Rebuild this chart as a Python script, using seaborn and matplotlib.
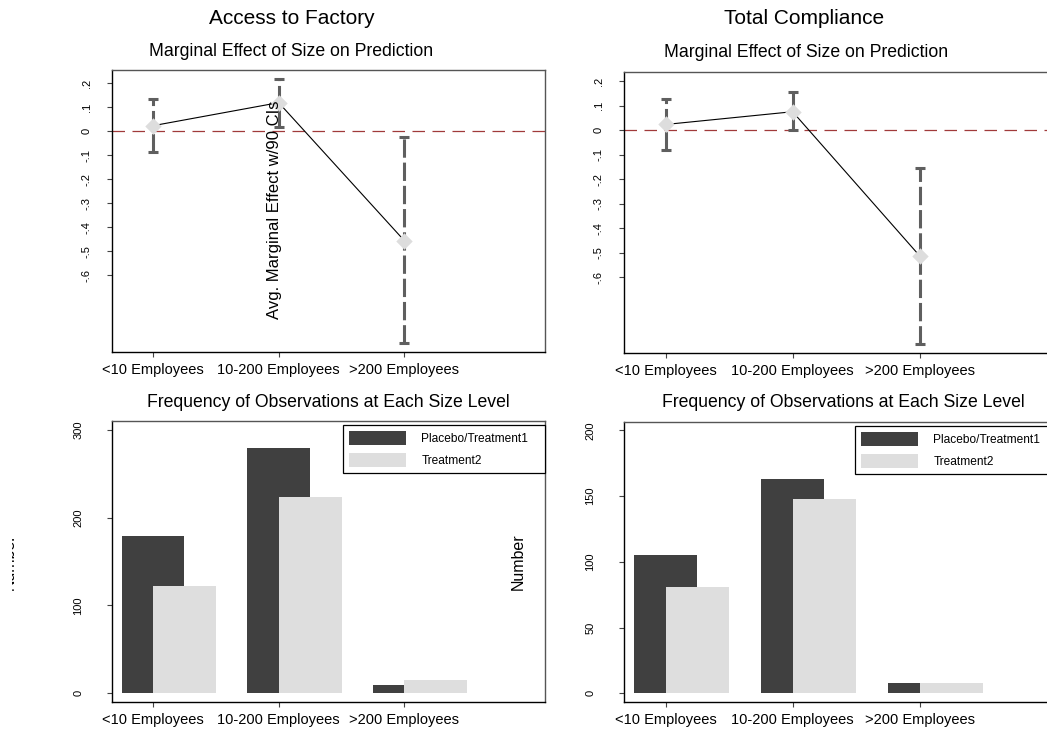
import matplotlib
matplotlib.use("Agg")

import matplotlib.pyplot as plt
import numpy as np
import seaborn as sns
from matplotlib.patches import Patch
from matplotlib.transforms import Bbox

# categories shared by every panel
categories = ["<10 Employees", "10-200 Employees", ">200 Employees"]

# marginal effects with 90% CIs
access_me = [0.023, 0.119, -0.456]
access_lo = [-0.088, 0.017, -0.883]
access_hi = [0.136, 0.217, -0.025]

comp_me = [0.024, 0.076, -0.512]
comp_lo = [-0.080, 0.001, -0.870]
comp_hi = [0.129, 0.155, -0.153]

# observation counts per size level
access_t1 = [179, 279, 9]
access_t2 = [122, 224, 15]
comp_t1 = [105, 163, 8]
comp_t2 = [81, 148, 8]

series_names = ["Placebo/Treatment1", "Treatment2"]
me_ticks = [-0.6, -0.5, -0.4, -0.3, -0.2, -0.1, 0, 0.1, 0.2]
me_ticklabels = ["-.6", "-.5", "-.4", "-.3", "-.2", "-.1", "0", ".1", ".2"]

DARK = "#404040"
LIGHT = "#dedede"
CI_COLOR = "#5f5f5f"

W, H = 1047, 733

sns.set_theme(style="white")
plt.rcParams["font.family"] = ["Liberation Sans", "DejaVu Sans"]
plt.rcParams.update({"text.color": "black", "axes.labelcolor": "black",
                     "xtick.color": "black", "ytick.color": "black"})


def px_axes(fig, left, top, width, height):
    return fig.add_axes([left / W, 1 - (top + height) / H, width / W, height / H])


def style_axes(ax, ypad):
    for side in ("left", "bottom"):
        ax.spines[side].set_color("black")
        ax.spines[side].set_linewidth(1.0)
    for side in ("top", "right"):
        ax.spines[side].set_color("#555555")
        ax.spines[side].set_linewidth(1.0)
    ax.tick_params(axis="both", which="both", direction="out", length=3.6,
                   width=0.8, color="#444444", left=True, bottom=True)
    ax.tick_params(axis="x", labelsize=10.5, pad=4)
    ax.tick_params(axis="y", labelsize=8, pad=ypad, labelrotation=90)
    for lab in ax.get_yticklabels():
        lab.set_va("center")
    ax.set_xlim(-0.327, 3.12)
    ax.set_xticks(range(len(categories)))
    ax.set_xticklabels(categories)
    ax.set_xlabel("")
    ax.set_ylabel("")


def effect_panel(ax, me, lo, hi, ylim):
    pos = np.arange(len(categories))
    me = np.array(me)
    yerr = [me - np.array(lo), np.array(hi) - me]
    ax.axhline(0, color="#a03a3a", lw=0.9, dashes=(10, 6), zorder=1)
    eb = ax.errorbar(pos, me, yerr=yerr, fmt="none", ecolor=CI_COLOR,
                     elinewidth=2.2, capsize=3.4, capthick=2.2, zorder=2)
    eb[2][0].set_linestyle((0, (6, 1.6)))
    sns.lineplot(x=pos, y=me, color="black", lw=0.8, ax=ax, zorder=3)
    sns.scatterplot(x=pos, y=me, marker="D", s=70, color="#dddddd",
                    linewidth=0, ax=ax, zorder=4)
    ax.set_ylim(*ylim)
    ax.set_yticks(me_ticks)
    ax.set_yticklabels(me_ticklabels)
    style_axes(ax, 11)


def count_panel(ax, t1, t2, ylim, yticks, ax_w):
    pos = np.arange(len(categories))
    sns.barplot(x=pos, y=t1, native_scale=True, width=0.5, color=DARK,
                saturation=1, errorbar=None, linewidth=0, ax=ax)
    sns.barplot(x=pos + 0.25, y=t2, native_scale=True, width=0.5, color=LIGHT,
                saturation=1, errorbar=None, linewidth=0, ax=ax)
    ax.set_ylim(*ylim)
    ax.set_yticks(yticks)
    ax.set_yticklabels([str(t) for t in yticks])
    style_axes(ax, 17)
    handles = [Patch(facecolor=DARK, edgecolor="none"),
               Patch(facecolor=LIGHT, edgecolor="none")]
    x0 = 231 / ax_w
    leg = ax.legend(handles, series_names, loc="upper left",
                    bbox_to_anchor=(x0, 0, 202 / ax_w, 1 - 4 / 281),
                    mode="expand", borderaxespad=0,
                    fontsize=8.6, handlelength=4.8, handleheight=1.4,
                    handletextpad=1.25, labelspacing=0.7, borderpad=0.5,
                    fancybox=False, framealpha=1, edgecolor="black")
    leg.get_frame().set_linewidth(0.9)


fig = plt.figure(figsize=(W / 100, H / 100), dpi=100)

ax_tl = px_axes(fig, 112, 70, 433, 282)
ax_tr = px_axes(fig, 624, 72, 438, 281)
ax_bl = px_axes(fig, 112, 421, 433, 281)
ax_br = px_axes(fig, 624, 422, 438, 280)

effect_panel(ax_tl, access_me, access_lo, access_hi, (-0.92, 0.255))
effect_panel(ax_tr, comp_me, comp_lo, comp_hi, (-0.908, 0.238))
count_panel(ax_bl, access_t1, access_t2, (-10, 310), [0, 100, 200, 300], 433)
count_panel(ax_br, comp_t1, comp_t2, (-6.6, 206.3), [0, 50, 100, 150, 200], 438)


def ftext(x, y, s, **kw):
    return fig.text(x / W, 1 - y / H, s, ha="center", va="center", **kw)


ftext(291.5, 18, "Access to Factory", fontsize=15)
ftext(804, 18, "Total Compliance", fontsize=15)
ftext(291.5, 51, "Marginal Effect of Size on Prediction", fontsize=12.7)
ftext(806.5, 52.5, "Marginal Effect of Size on Prediction", fontsize=12.7)
ftext(328, 402.5, "Frequency of Observations at Each Size Level", fontsize=12.7)
ftext(843, 402.5, "Frequency of Observations at Each Size Level", fontsize=12.7)
ftext(275, 210, "Avg. Marginal Effect w/90 CIs", fontsize=12, rotation=90)
ftext(518, 561.5, "Number", fontsize=11.5, rotation=90)

# the left "Number" label is mostly hidden in the original
hidden = ftext(9.5, 561.5, "Number", fontsize=11.5, rotation=90)
hidden.set_clip_box(Bbox([[11.5, 0], [40, H]]))
hidden.set_clip_on(True)

fig.savefig("out.png", dpi=100)
